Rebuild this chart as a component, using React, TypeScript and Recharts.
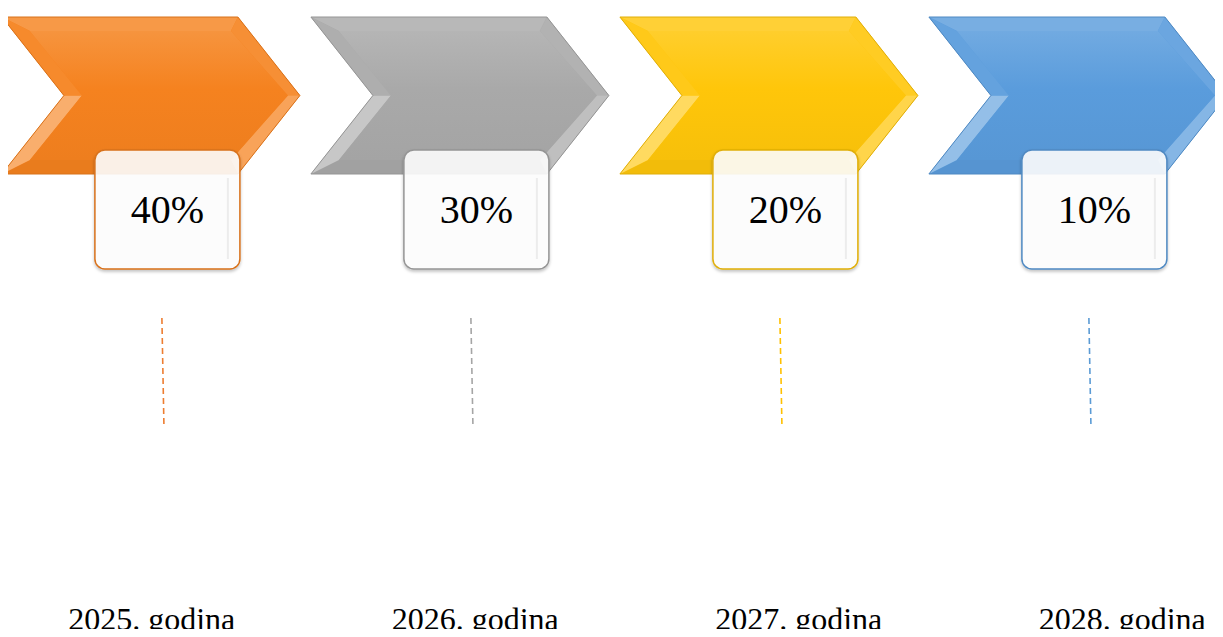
import React from "react";
import { ComposedChart, Bar, XAxis, YAxis } from "recharts";

const years = ["2025", "2026", "2027", "2028"];
const yearLabels = ["2025. godina", "2026. godina", "2027. godina", "2028. godina"];
const shares = [40, 30, 20, 10];

const baseColors = ["#F5821F", "#A9A9A9", "#FFC60A", "#5A9CDC"];
const lineColors = ["#ED7D31", "#A5A5A5", "#FFC000", "#5B9BD5"];

const data = years.map((year, i) => ({ year, label: yearLabels[i], share: shares[i] }));

const SERIF = "Liberation Serif, Tinos, Times New Roman, DejaVu Serif, serif";

function mix(hex: string, target: string, t: number) {
  const a = parseInt(hex.slice(1), 16);
  const b = parseInt(target.slice(1), 16);
  const ch = (v: number, s: number) => (v >> s) & 255;
  const out = [16, 8, 0].map((s) => Math.round(ch(a, s) + (ch(b, s) - ch(a, s)) * t));
  return "#" + out.map((v) => v.toString(16).padStart(2, "0")).join("");
}

const pts = (p: number[][]) => p.map((q) => q.join(",")).join(" ");

function ChevronCard(props: any) {
  const { x, width, payload } = props;
  const i = years.indexOf(payload.year);
  const base = baseColors[i];
  const cx = x + width / 2;
  const W = 298, H = 157, D = 62, top = 17;
  const x0 = cx - W / 2;
  const outer = [
    [x0, top], [x0 + W - D, top], [x0 + W, top + H / 2],
    [x0 + W - D, top + H], [x0, top + H], [x0 + D, top + H / 2],
  ];
  const inner = [
    [x0 + 28, top + 14], [x0 + W - D - 7, top + 14], [x0 + W - 12, top + H / 2],
    [x0 + W - D - 7, top + H - 14], [x0 + 28, top + H - 14], [x0 + D + 18, top + H / 2],
  ];
  // facet shading: top, upper-right, lower-right, bottom, lower-left, upper-left
  const facetTone = [0.18, 0.1, 0.26, -0.05, 0.35, 0.06];
  const facets = outer.map((p, k) => {
    const n = (k + 1) % 6;
    const t = facetTone[k];
    const fill = t >= 0 ? mix(base, "#ffffff", t) : mix(base, "#000000", -t);
    return <polygon key={k} points={pts([p, outer[n], inner[n], inner[k]])} fill={fill} />;
  });

  const bx = cx + 16 - 72;
  const by = 150;
  const bw = 145, bh = 119;
  const lx = cx + 12;
  const gid = `chev-${i}`;

  return (
    <g>
      <defs>
        <linearGradient id={gid} x1="0" y1="0" x2="0" y2="1">
          <stop offset="0%" stopColor={mix(base, "#ffffff", 0.14)} />
          <stop offset="45%" stopColor={base} />
          <stop offset="100%" stopColor={mix(base, "#000000", 0.03)} />
        </linearGradient>
        <filter id={`sh-${i}`} x="-20%" y="-20%" width="140%" height="140%">
          <feDropShadow dx="0" dy="2" stdDeviation="1.5" floodColor="#000" floodOpacity="0.25" />
        </filter>
      </defs>
      <polygon points={pts(outer)} fill={base} />
      {facets}
      <polygon points={pts(inner)} fill={`url(#${gid})`} />
      <polygon points={pts(outer)} fill="none" stroke={mix(base, "#000000", 0.12)} strokeWidth={1} />
      <line
        x1={lx - 1} y1={318} x2={lx + 1} y2={424}
        stroke={lineColors[i]} strokeWidth={1.6} strokeDasharray="6 4"
      />
      <rect
        x={bx} y={by} width={bw} height={bh} rx={10}
        fill="#ffffff" fillOpacity={0.88}
        stroke={mix(base, "#000000", 0.12)} strokeWidth={1.5}
        filter={`url(#sh-${i})`}
      />
      <line x1={bx + bw - 12} y1={by + 28} x2={bx + bw - 12} y2={by + bh - 10} stroke="#ececec" strokeWidth={2} />
      <text
        x={bx + bw / 2} y={by + 73} textAnchor="middle"
        style={{ fontFamily: SERIF, fontSize: 40 }} fill="#000"
      >
        {`${payload.share}%`}
      </text>
    </g>
  );
}

function YearTick(props: any) {
  const { x, y, payload } = props;
  return (
    <text x={x} y={y + 38} textAnchor="middle" style={{ fontFamily: SERIF, fontSize: 32 }} fill="#000">
      {payload.value}
    </text>
  );
}

export default function App() {
  return (
    <div style={{ margin: -8, width: 1223, height: 637, overflow: "hidden", background: "#fff" }}>
      <ComposedChart
        width={1320}
        height={637}
        data={data}
        margin={{ top: 0, right: 0, left: 0, bottom: 0 }}
        style={{ marginLeft: -30 }}
      >
        <XAxis xAxisId="shape" dataKey="year" type="category" hide padding={{ left: 26.5, right: 57.5 }} />
        <XAxis
          xAxisId="label"
          dataKey="label"
          type="category"
          height={45}
          axisLine={false}
          tickLine={false}
          tickSize={0}
          tickMargin={0}
          interval={0}
          padding={{ left: 20, right: 6 }}
          tick={<YearTick />}
        />
        <YAxis hide domain={[0, 100]} />
        <Bar xAxisId="shape" dataKey="share" shape={<ChevronCard />} isAnimationActive={false} />
      </ComposedChart>
    </div>
  );
}
